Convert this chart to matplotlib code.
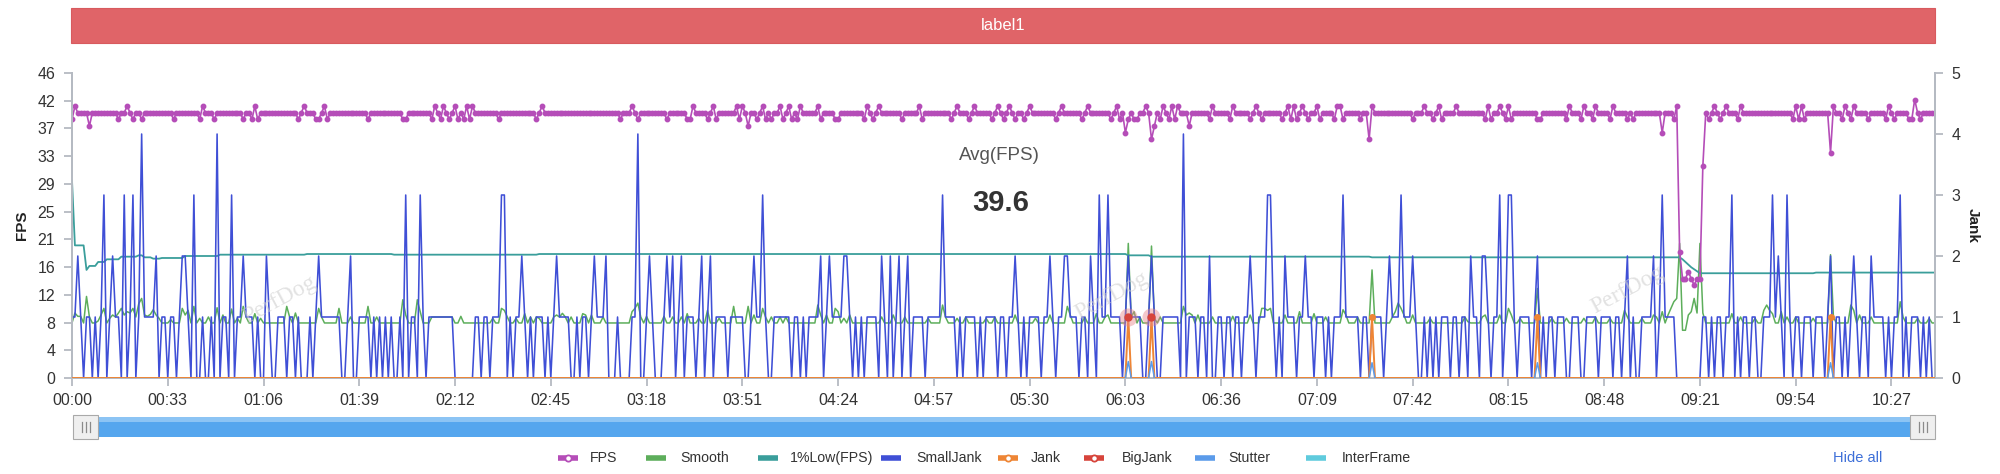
import numpy as np
import matplotlib
matplotlib.use("Agg")
import matplotlib.pyplot as plt
from matplotlib.patches import Rectangle
from matplotlib.lines import Line2D

plt.rcParams['font.family'] = ['Liberation Sans', 'DejaVu Sans']

# ---------------- data ----------------
N_POINTS = 643  # one sample per second, 00:00 .. 10:42
x_tick_pos = [0, 33, 66, 99, 132, 165, 198, 231, 264, 297, 330, 363, 396, 429,
              462, 495, 528, 561, 594, 627]
x_tick_labels = ["00:00", "00:33", "01:06", "01:39", "02:12", "02:45", "03:18",
                 "03:51", "04:24", "04:57", "05:30", "06:03", "06:36", "07:09",
                 "07:42", "08:15", "08:48", "09:21", "09:54", "10:27"]
left_tick_labels = ["0", "4", "8", "12", "16", "21", "25", "29", "33", "37", "42", "46"]
right_tick_labels = ["0", "1", "2", "3", "4", "5"]

# FPS: typical value and the seconds that differ from it
fps_typical = 40
fps_exceptions = {
    0: 39, 1: 41, 6: 38, 16: 39, 19: 41, 21: 39, 24: 39, 35: 39, 44: 39, 45: 41,
    49: 39, 59: 39, 62: 39, 63: 41, 64: 39, 78: 39, 80: 41, 84: 39, 85: 39, 87: 41,
    88: 39, 102: 39, 114: 39, 115: 39, 124: 39, 125: 41, 127: 39, 128: 41, 130: 39,
    132: 41, 133: 39, 135: 39, 136: 41, 137: 39, 138: 41, 147: 39, 160: 39,
    162: 41, 189: 39, 193: 41, 195: 39, 205: 39, 212: 39, 213: 39, 214: 41, 219: 39,
    221: 41, 222: 39, 229: 41, 230: 39, 231: 41, 233: 38, 236: 39, 238: 41, 239: 39,
    241: 39, 244: 41, 245: 39, 247: 41, 248: 39, 250: 39, 251: 41, 257: 41, 258: 39,
    263: 39, 264: 39, 273: 39, 274: 41, 276: 39, 278: 41, 286: 39, 292: 41, 293: 39,
    303: 39, 305: 41, 309: 39, 311: 41, 317: 39, 319: 41,
    321: 39, 323: 41, 325: 39, 328: 39, 330: 41, 339: 39, 341: 41, 348: 39, 350: 41,
    358: 39, 360: 41, 361: 39, 363: 37, 364: 39, 366: 39, 367: 39, 370: 41, 372: 36,
    373: 38, 375: 39, 376: 41, 378: 39, 379: 41, 380: 39, 381: 41, 385: 38, 392: 39,
    393: 41, 399: 39, 400: 41, 406: 39, 408: 41, 410: 39, 417: 39, 419: 41, 420: 39,
    421: 41, 422: 39, 424: 41, 426: 39, 429: 41, 430: 39, 435: 39, 436: 41, 437: 41,
    438: 39, 444: 39, 447: 36, 448: 41, 462: 39, 466: 41, 469: 39, 471: 41, 472: 39,
    477: 41,
    487: 39, 488: 41, 489: 39, 492: 41, 494: 39, 495: 41, 496: 39, 505: 39, 506: 39,
    515: 39, 516: 41, 520: 39, 521: 41, 524: 39, 525: 41, 530: 39, 531: 41, 536: 39,
    538: 39, 548: 37, 552: 39, 553: 41, 554: 19, 555: 15, 556: 15, 557: 16, 558: 15,
    559: 14, 560: 15, 561: 15, 562: 32, 564: 39, 566: 41, 568: 39, 570: 41, 574: 39,
    575: 41, 593: 39, 594: 41, 595: 39, 596: 41, 597: 39, 606: 34, 607: 41, 610: 39,
    611: 41, 613: 39, 614: 41, 619: 39, 625: 39, 626: 41, 628: 39, 633: 39, 634: 39,
    635: 42, 637: 39,
}

# Smooth (drawn on the FPS scale): typical value and readings that differ
smooth_typical = 8.3
smooth_exceptions = {
    1: 9.8, 2: 9.3, 3: 9.3, 5: 12.3, 6: 9.2, 9: 8.6, 10: 9.5, 11: 10.5, 13: 9.0,
    14: 9.5, 15: 9.2, 16: 9.8, 17: 10.5, 18: 9.5, 19: 10.0, 20: 9.8, 21: 10.5,
    22: 9.2, 23: 11.2, 24: 12.0, 25: 9.5, 26: 9.3, 27: 9.6, 28: 10.3, 29: 9.5,
    30: 9.0, 34: 8.8, 38: 10.5, 39: 9.5, 40: 10.2, 42: 10.8, 44: 9.0, 47: 9.2,
    50: 10.6, 52: 9.5, 55: 10.4, 57: 9.0, 59: 10.8, 60: 9.2, 63: 9.7, 65: 9.0,
    74: 10.8, 75: 9.2, 77: 9.8, 85: 10.5, 86: 9.2, 92: 10.5, 96: 9.2, 102: 10.8,
    105: 9.2, 114: 11.8, 115: 9.5, 119: 11.8, 120: 10.0, 124: 9.2, 125: 9.2,
    126: 9.2, 127: 9.2, 128: 9.2, 129: 9.2, 130: 9.2, 131: 9.2, 134: 9.3, 145: 9.0,
    148: 10.5, 149: 10.2, 150: 9.2, 153: 9.0, 156: 9.7, 158: 9.2, 160: 9.2,
    161: 9.0, 166: 9.2, 167: 9.5, 168: 9.2, 169: 9.75, 170: 9.2, 172: 9.2, 176: 9.7,
    177: 9.5, 179: 9.5, 183: 9.2, 193: 10.0, 194: 10.5, 195: 11.3, 196: 9.2,
    198: 9.3, 204: 9.3, 207: 9.2, 210: 9.2, 212: 9.7, 216: 9.0, 219: 10.2, 223: 9.0,
    228: 10.8, 233: 10.8, 235: 9.5, 238: 10.5, 239: 9.2, 241: 9.2, 244: 9.2,
    246: 9.2, 257: 11.0, 258: 9.5, 260: 9.5, 263: 10.5, 264: 10.0, 266: 9.0,
    268: 9.5, 279: 9.2, 283: 9.5, 287: 9.2, 295: 9.0, 300: 11.0, 301: 9.2, 305: 9.0,
    308: 9.2, 315: 9.0, 318: 9.2,
    325: 9.5, 332: 9.0, 337: 9.5, 343: 10.8, 344: 9.5, 349: 9.2, 353: 9.7, 356: 9.2,
    357: 9.5, 364: 20.3, 365: 9.2, 366: 10.0, 368: 9.2, 372: 19.9, 373: 9.0,
    375: 9.2, 383: 10.8, 384: 9.5, 385: 9.8, 386: 9.5, 388: 9.5, 393: 9.2, 400: 9.3,
    406: 9.5, 410: 10.5, 411: 10.5, 412: 10.2, 413: 10.5, 418: 9.5, 423: 10.0,
    428: 9.7, 432: 9.2, 438: 10.3, 439: 9.5, 443: 9.2, 448: 16.3, 455: 9.2,
    456: 10.0, 457: 11.3, 458: 10.5, 459: 9.5, 462: 9.5, 468: 9.0,
    480: 9.2, 481: 8.5, 486: 9.2, 487: 9.5, 492: 9.5, 495: 10.5, 496: 9.5, 499: 9.0,
    505: 13.5, 510: 9.0, 515: 9.0, 521: 9.0, 525: 9.2, 530: 9.0, 535: 10.2,
    536: 9.2, 541: 9.0, 545: 9.5, 546: 9.2, 548: 10.0, 550: 9.5, 551: 10.5,
    552: 11.5, 553: 12.0, 554: 20.3, 555: 7.2, 556: 7.2, 557: 9.5, 558: 10.0,
    559: 12.0, 560: 9.8, 561: 20.3, 562: 9.8, 572: 9.7, 575: 9.2, 580: 9.0,
    583: 10.2, 584: 11.0, 585: 10.2, 586: 9.7, 589: 10.0, 591: 9.2, 594: 9.2,
    600: 9.0, 606: 18.6, 607: 9.2, 613: 11.0, 614: 10.2, 616: 9.5, 620: 9.2,
    630: 11.5, 631: 9.2, 636: 9.0, 640: 9.0,
}

# 1%Low(FPS) as runs of (number of seconds, value)
low1_runs = [
    (1, 29.8), (4, 20.0), (1, 16.3), (3, 16.9), (3, 17.5), (5, 17.9), (6, 18.3),
    (2, 18.5), (3, 18.2), (3, 18.0), (8, 18.1), (12, 18.4), (30, 18.6), (30, 18.7),
    (50, 18.6), (203, 18.7), (8, 18.5), (76, 18.3), (107, 18.2), (1, 17.9),
    (1, 17.5), (1, 17.1), (1, 16.7), (1, 16.4), (1, 16.1), (40, 15.8), (42, 15.9),
]

# SmallJank per second (right axis), one digit per second
small_jank_str = "".join([
    "1121011010", "1301211030", "1301411112", "0110110122", "1030010010",
    "4011030112", "1110100210", "0111011010", "0010121111", "1110012001",
    "1110101010", "1001030110", "3101111111", "1100000001", "1011011133",
    "0101121010",
    "1110101211", "1100101101", "2111200010", "0001140012", "1000121201",
    "2011101201", "2011110111", "1100121131", "0011111101", "1010111120",
    "1211112210", "1010111102", "1020120120", "1111011111", "3111101011",
    "1101011110",
    "1101121010", "1111011210", "1122111011", "0210311311", "1101211110",
    "0121001111", "1104011101", "1020011011", "0110112101", "1133101021",
    "1101121101", "1101011131", "1111011011", "1101211131", "1121001010",
    "1011101101",
    "1021102210", "1130133101", "1110120101", "1011100111", "0011110111",
    "1011012010", "0111120131", "1110000000", "0011010110", "1130101101",
    "1001113121", "0310110111", "0111012011", "0101210110", "2111101011",
    "3010111010", "100",
])

jank_events = {364: 1, 372: 1, 448: 1, 505: 1, 606: 1}
bigjank_events = {364: 1, 372: 1}
stutter_events = {364: 0.27, 372: 0.27, 448: 0.25, 505: 0.25, 606: 0.25}
avg_fps_text = "39.6"

# ---------------- build series ----------------
x = np.arange(N_POINTS)
fps = np.full(N_POINTS, float(fps_typical))
for k, v in fps_exceptions.items():
    fps[k] = v
smooth = np.full(N_POINTS, smooth_typical)
for k, v in smooth_exceptions.items():
    smooth[k] = v
low1 = np.concatenate([np.full(n, v) for n, v in low1_runs])
small_jank = np.array([int(c) for c in small_jank_str], dtype=float)
assert len(small_jank) == N_POINTS and len(low1) == N_POINTS
jank = np.zeros(N_POINTS)
for k, v in jank_events.items():
    jank[k] = v
stutter = np.full(N_POINTS, np.nan)
for k, v in stutter_events.items():
    stutter[k - 1] = 0
    stutter[k] = v
    stutter[k + 1] = 0

C_FPS = '#B54DB8'
C_SMOOTH = '#5DAE5B'
C_LOW = '#3A9E9B'
C_SJ = '#3F4FD6'
C_JANK = '#EE8535'
C_BIG = '#D7443B'
C_STUT = '#5B9BEA'
C_INTER = '#5FCBDD'
AXC = '#b5bac2'
TXT = '#333333'

fig = plt.figure(figsize=(20, 4.74), dpi=100)
W, H = 2000, 474

def fx(px):
    return px / W

def fy(py):
    return 1 - py / H

ax = fig.add_axes([fx(72), fy(378), fx(1935) - fx(72), fy(73) - fy(378)])
ax2 = ax.twinx()

ax.set_xlim(0, N_POINTS - 1)
ax.set_ylim(0, 46)
ax2.set_ylim(0, 5)

ax.plot(x, smooth, color=C_SMOOTH, lw=1.1, zorder=2)
ax.plot(x, low1, color=C_LOW, lw=1.3, zorder=3)
ax.plot(x, fps, color=C_FPS, lw=1.2, marker='o', ms=3.2, zorder=4)

ax2.plot(x, small_jank, color=C_SJ, lw=1.15, zorder=2)
ax2.plot(x, jank, color=C_JANK, lw=1.4, zorder=3)
jk = sorted(jank_events)
ax2.plot(jk, [jank_events[k] for k in jk], 'o', color=C_JANK, ms=4, zorder=4)
bk = sorted(bigjank_events)
ax2.scatter(bk, [bigjank_events[k] for k in bk], s=170, color='#e8868a', alpha=0.45,
            zorder=5, linewidths=0)
ax2.plot(bk, [bigjank_events[k] for k in bk], 'o', color=C_BIG, ms=5, zorder=6)
ax2.plot(x, stutter, color=C_STUT, lw=1.1, zorder=7)

# axes styling
yt = np.linspace(0, 46, 12)
ax.set_yticks(yt)
ax.set_yticklabels(left_tick_labels)
ax2.set_yticks(range(6))
ax2.set_yticklabels(right_tick_labels)
ax.set_xticks(x_tick_pos)
ax.set_xticklabels(x_tick_labels)
for a in (ax, ax2):
    a.spines['top'].set_visible(False)
    for s in ('left', 'right', 'bottom'):
        a.spines[s].set_color(AXC)
        a.spines[s].set_linewidth(1.4)
    a.tick_params(colors=AXC, labelcolor=TXT, labelsize=11.5, length=6, width=1.3)
ax.tick_params(axis='x', pad=5)
ax.tick_params(axis='y', pad=6)
ax2.tick_params(axis='y', pad=6)

fig.text(fx(22), fy(225), "FPS", rotation=90, ha='center', va='center',
         fontsize=11, fontweight='bold', color='#222')
fig.text(fx(1973), fy(225), "Jank", rotation=-90, ha='center', va='center',
         fontsize=11, fontweight='bold', color='#222')

# watermarks
for wx, wy in [(280, 300), (1112, 296), (1628, 290)]:
    fig.text(fx(wx), fy(wy), "PerfDog", rotation=28, ha='center', va='center',
             fontsize=17, family='Liberation Serif', color='#cfcfcf', alpha=0.6)

# Average text
fig.text(fx(999), fy(156), "Avg(FPS)", ha='center', va='center', fontsize=13.5,
         color='#555')
fig.text(fx(1001), fy(203), avg_fps_text, ha='center', va='center', fontsize=21,
         fontweight='bold', color='#333')

# title bar
fig.patches.append(Rectangle((fx(71), fy(43)), fx(1935) - fx(71), fy(8) - fy(43),
                             transform=fig.transFigure, facecolor='#E06468',
                             edgecolor='#d85a5e', lw=0.8))
fig.text(fx(1003), fy(25.5), "label1", ha='center', va='center', fontsize=12,
         color='white')

# slider
fig.patches.append(Rectangle((fx(84), fy(437)), fx(1922) - fx(84), fy(417) - fy(437),
                             transform=fig.transFigure, facecolor='#55A6EE',
                             edgecolor='none'))
fig.patches.append(Rectangle((fx(84), fy(422)), fx(1922) - fx(84), fy(417) - fy(422),
                             transform=fig.transFigure, facecolor='#8cc4f4',
                             edgecolor='none'))
for hx in (73, 1910):
    fig.patches.append(Rectangle((fx(hx), fy(439)), fx(25), fy(415) - fy(439),
                                 transform=fig.transFigure, facecolor='#efefef',
                                 edgecolor='#a9a9a9', lw=0.8))
    for dx in (8.5, 12.5, 16.5):
        fig.lines.append(Line2D([fx(hx + dx)] * 2, [fy(432), fy(422)],
                                transform=fig.transFigure, color='#8a8a8a', lw=0.9))

# legend
ly = fy(458)
legend_items = [
    ("FPS", C_FPS, True, 568, 590),
    ("Smooth", C_SMOOTH, False, 656, 680),
    ("1%Low(FPS)", C_LOW, False, 768, 790),
    ("SmallJank", C_SJ, False, 891, 916),
    ("Jank", C_JANK, True, 1008, 1031),
    ("BigJank", C_BIG, True, 1094, 1122),
    ("Stutter", C_STUT, False, 1205, 1228),
    ("InterFrame", C_INTER, False, 1316, 1342),
]
for label, col, mk, cx, tx in legend_items:
    fig.lines.append(Line2D([fx(cx - 10), fx(cx + 10)], [ly, ly], transform=fig.transFigure,
                            color=col, lw=4.0, solid_capstyle='butt'))
    if mk:
        fig.lines.append(Line2D([fx(cx)], [ly], transform=fig.transFigure, marker='o',
                                ms=4.5, markerfacecolor='white', markeredgecolor=col,
                                markeredgewidth=1.3))
    fig.text(fx(tx), ly, label, ha='left', va='center', fontsize=10.2, color=TXT)
fig.text(fx(1833), ly, "Hide all", ha='left', va='center', fontsize=10.5, color='#3d6fd8')

fig.savefig("out.png", dpi=100)
